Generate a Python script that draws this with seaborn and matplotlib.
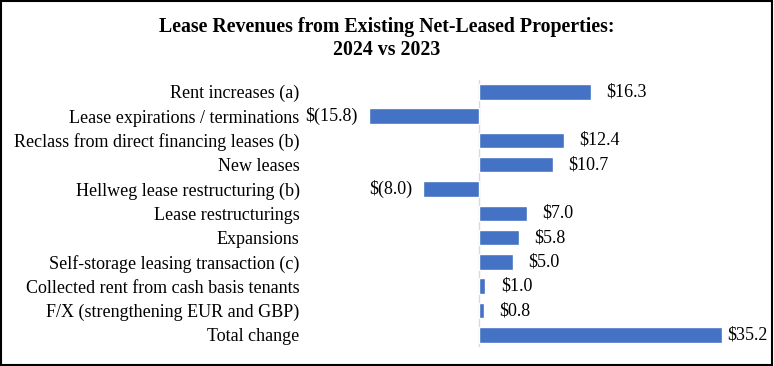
import matplotlib
matplotlib.use("Agg")
import matplotlib.pyplot as plt
import seaborn as sns
import pandas as pd
from matplotlib.patches import Rectangle

categories = [
    "Rent increases (a)",
    "Lease expirations / terminations",
    "Reclass from direct financing leases (b)",
    "New leases",
    "Hellweg lease restructuring (b)",
    "Lease restructurings",
    "Expansions",
    "Self-storage leasing transaction (c)",
    "Collected rent from cash basis tenants",
    "F/X (strengthening EUR and GBP)",
    "Total change",
]
values = [16.3, -15.8, 12.4, 10.7, -8.0, 7.0, 5.8, 5.0, 1.0, 0.8, 35.2]
title_lines = ["Lease Revenues from Existing Net-Leased Properties:", "2024 vs 2023"]

sns.set_theme(style="white")
plt.rcParams["font.family"] = ["Liberation Serif", "DejaVu Serif"]

df = pd.DataFrame({"category": categories, "value": values})

W, H = 774, 366
fig = plt.figure(figsize=(W / 100, H / 100), dpi=100)
ax = fig.add_axes([310 / W, 1 - 347 / H, 455 / W, (347 - 79.6) / H])

sns.barplot(data=df, x="value", y="category", orient="h", color="#4472C4",
            saturation=1, width=0.64, ax=ax)

ax.set_xlim(-24.35, 41.4)
ax.set_ylim(10.5, -0.5)
ax.axvline(0, color="#D9D9D9", lw=1, zorder=0)
for s in ax.spines.values():
    s.set_visible(False)
ax.set_xticks([])
ax.set_xlabel("")
ax.set_ylabel("")
ax.tick_params(axis="y", length=0, pad=7.5, labelsize=13, labelcolor="black")
for lab in ax.get_yticklabels():
    lab.set_fontfamily(["Liberation Serif"])

for i, v in enumerate(values):
    if v >= 0:
        txt = f"${v:.1f}"
        off = 4 if i == len(values) - 1 else 11
        ax.annotate(txt, (v, i), xytext=(off, 0), textcoords="offset points",
                    ha="left", va="center", fontsize=13, color="black")
    else:
        txt = f"$({abs(v):.1f})"
        ax.annotate(txt, (v, i), xytext=(-8, 0), textcoords="offset points",
                    ha="right", va="center", fontsize=13, color="black")

fig.text(0.5, 1 - 32 / H, title_lines[0], ha="center", va="baseline",
         fontsize=14.3, fontweight="bold", color="black")
fig.text(0.5, 1 - 55 / H, title_lines[1], ha="center", va="baseline",
         fontsize=14.3, fontweight="bold", color="black")

fig.patches.append(Rectangle((0.001, 0.002), 0.997, 0.996, transform=fig.transFigure,
                             fill=False, edgecolor="black", lw=1.5))

fig.savefig("out.png", dpi=100)
